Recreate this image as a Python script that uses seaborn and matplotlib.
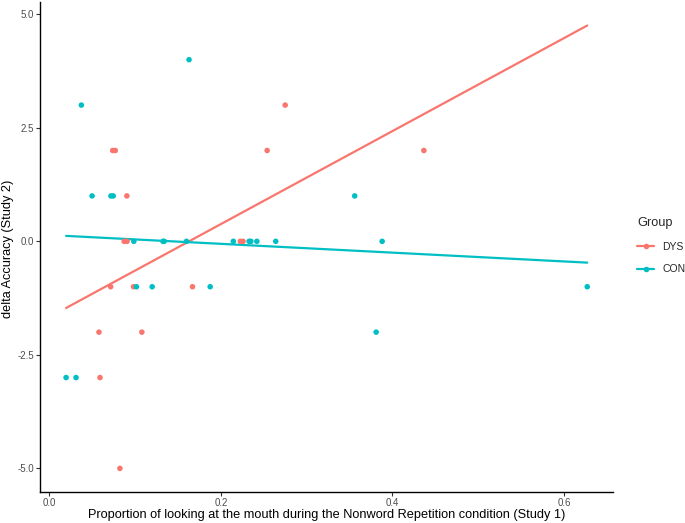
import numpy as np
import pandas as pd
import matplotlib
matplotlib.use("Agg")
import matplotlib.pyplot as plt
from matplotlib.lines import Line2D
import seaborn as sns

# ---- data ----
dys_x = [0.275, 0.074, 0.077, 0.254, 0.4366, 0.0905, 0.0874, 0.0908, 0.2227,
         0.2259, 0.0716, 0.0983, 0.167, 0.058, 0.108, 0.0592, 0.0824]
dys_y = [3, 2, 2, 2, 2, 1, 0, 0, 0, 0, -1, -1, -1, -2, -2, -3, -5]

con_x = [0.0375, 0.163, 0.050, 0.072, 0.0746, 0.356, 0.0986, 0.1326, 0.134,
         0.160, 0.2146, 0.233, 0.235, 0.242, 0.264, 0.388, 0.1017, 0.120,
         0.1876, 0.627, 0.381, 0.0197, 0.0313]
con_y = [3, 4, 1, 1, 1, 1, 0, 0, 0, 0, 0, 0, 0, 0, 0, 0, -1, -1, -1, -1, -2, -3, -3]

groups = ["DYS", "CON"]
colors = {"DYS": "#F8766D", "CON": "#00BFC4"}
x_ticks = [0.0, 0.2, 0.4, 0.6]
y_ticks = [-5.0, -2.5, 0.0, 2.5, 5.0]

df = pd.DataFrame({
    "x": dys_x + con_x,
    "y": dys_y + con_y,
    "Group": ["DYS"] * len(dys_x) + ["CON"] * len(con_x),
})

sns.set_theme(style="white")
plt.rcParams["font.family"] = ["Liberation Sans", "DejaVu Sans"]

fig = plt.figure(figsize=(6.85, 5.23), dpi=100)
ax = fig.add_axes([40 / 685, 31 / 523, (613 - 40) / 685, (521 - 31) / 523])

sns.scatterplot(data=df, x="x", y="y", hue="Group", hue_order=groups,
                palette=colors, s=16, linewidth=0, ax=ax, legend=False, zorder=3)

# linear fits over the full data range
xr = np.linspace(df["x"].min(), df["x"].max(), 50)
for g in groups:
    sub = df[df["Group"] == g]
    b, a = np.polyfit(sub["x"], sub["y"], 1)
    ax.plot(xr, a + b * xr, color=colors[g], lw=1.6, zorder=2)

ax.set_xlim(-0.0107, 0.657)
ax.set_ylim(-5.52, 5.27)
ax.set_xticks(x_ticks)
ax.set_xticklabels([f"{t:.1f}" for t in x_ticks])
ax.set_yticks(y_ticks)
ax.set_yticklabels([f"{t:.1f}" for t in y_ticks])

for s in ["top", "right"]:
    ax.spines[s].set_visible(False)
for s in ["left", "bottom"]:
    ax.spines[s].set_color("black")
    ax.spines[s].set_linewidth(1.0)

ax.tick_params(axis="both", which="both", length=3, width=0.8, color="#333333",
               labelcolor="#4D4D4D", labelsize=7, direction="out", pad=1.5,
               bottom=True, left=True)
ax.set_xlabel("Proportion of looking at the mouth during the Nonword Repetition condition (Study 1)",
              fontsize=9.2, color="black", va="center")
ax.set_ylabel("delta Accuracy (Study 2)", fontsize=9.2, color="black", va="center")
ax.xaxis.set_label_coords(0.5, -23 / 490)
ax.yaxis.set_label_coords(-32 / 573, 0.5 - 2 / 490)
ax.grid(False)

handles = [Line2D([0], [0], color=colors[g], lw=1.6, marker="o", markersize=4,
                  markeredgewidth=0) for g in groups]
leg = fig.legend(handles, groups, title="Group", loc="upper left",
                 bbox_to_anchor=(628 / 685, 1 - 208 / 523), frameon=False,
                 fontsize=7.5, title_fontsize=9.2, handlelength=1.6,
                 labelspacing=1.2, handletextpad=0.8)
leg._legend_box.align = "left"

fig.savefig("out.png", dpi=100)
